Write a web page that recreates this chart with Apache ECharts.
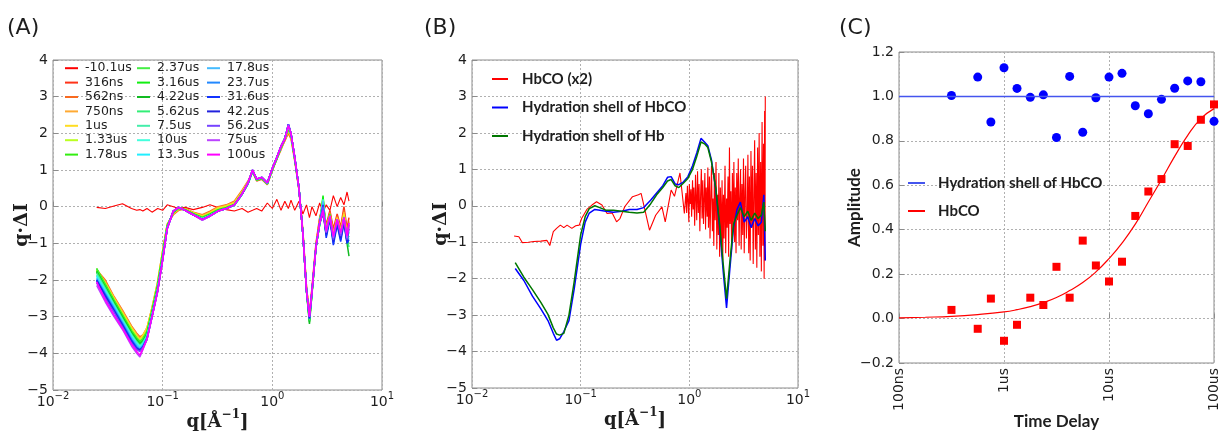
<!DOCTYPE html>
<html>
<head>
<meta charset="UTF-8">
<title>q·ΔI time series</title>
<style>
    html, body { margin: 0; padding: 0; background: #fff; }
    #chart { width: 1220px; height: 431px; }
</style>
</head>
<body>
<div id="chart"></div>
<script src="https://cdn.jsdelivr.net/npm/echarts@6/dist/echarts.min.js"></script>
<script>
// ---------- panel (A): q.dI for every time delay ----------
var qA = [0.025,0.03,0.036,0.043,0.052,0.058,0.062,0.066,0.072,0.08,0.09,0.1,0.11,
          0.125,0.14,0.16,0.19,0.23,0.27,0.32,0.38,0.45,0.53,0.6,0.66,0.72,0.8,0.9,1.0,1.1,1.2,1.3,1.4,1.48,
          1.6,1.75,1.9,2.05,2.18,2.3,2.5,2.7,2.9,3.1,3.35,3.6,3.9,4.2,4.5,4.8,5.0];
var timeLabels = ['-10.1us','316ns','562ns','750ns','1us','1.33us','1.78us',
                  '2.37us','3.16us','4.22us','5.62us','7.5us','10us','13.3us',
                  '17.8us','23.7us','31.6us','42.2us','56.2us','75us','100us'];
var colorsA = ['#ff0000','#ff3318','#f86a20','#ffaa33','#ffdd22','#bbff22','#33ee11',
               '#44ee44','#11ee11','#11bb22','#33ee77','#44eeaa','#44ffdd','#22eeff',
               '#44bbff','#2288ff','#1133ff','#2222dd','#7744ff','#bb44ff','#ff00ff'];

var dNeg10_1us = [-0.02,-0.05,0.02,0.08,-0.05,-0.1,-0.08,-0.12,-0.05,-0.15,-0.05,-0.1,0.05, 0.0,-0.05,-0.02,-0.08,-0.02,0.05,-0.02,-0.08,-0.12,-0.05,-0.15,-0.1,-0.05,-0.12,0.1,-0.05,0.2,-0.1,0.15,-0.05,0.18, -0.1,0.15,-0.2,0.05,-0.3,0.0,-0.25,0.1,-0.15,0.05,-0.1,0.3,0.0,0.25,0.05,0.4,0.15];
var d316ns = [-1.78,-2.1,-2.5,-2.88,-3.3,-3.5,-3.58,-3.52,-3.35,-2.8,-2.1,-1.25,-0.5, -0.2,-0.08,-0.08,-0.18,-0.25,-0.18,-0.05,0.02,0.1,0.4,0.65,0.95,0.7,0.75,0.6,1.0,1.3,1.6,1.8,2.05,1.9, 1.3,0.45,-0.7,-2.2,-2.9,-2.2,-1.0,-0.3,0.05,-0.5,-0.1,-0.6,-0.2,-0.55,0.0,-0.6,-0.3];
var d562ns = [-1.72,-2.0,-2.45,-2.82,-3.25,-3.45,-3.55,-3.5,-3.3,-2.75,-2.05,-1.2,-0.48, -0.22,-0.1,-0.05,-0.15,-0.22,-0.12,0.0,0.05,0.15,0.45,0.7,0.95,0.72,0.75,0.62,0.98,1.3,1.55,1.8,2.0,1.85, 1.25,0.45,-0.65,-2.2,-2.95,-2.25,-1.05,-0.35,0.1,-0.55,-0.15,-0.7,-0.25,-0.6,-0.1,-0.7,-0.4];
var d750ns = [-1.75,-2.05,-2.47,-2.85,-3.28,-3.48,-3.6,-3.55,-3.35,-2.78,-2.1,-1.22,-0.5, -0.2,-0.08,-0.06,-0.16,-0.24,-0.15,-0.02,0.03,0.12,0.42,0.68,0.98,0.72,0.78,0.62,1.0,1.32,1.6,1.82,2.05,1.9, 1.3,0.5,-0.7,-2.25,-2.95,-2.3,-1.05,-0.4,0.0,-0.6,-0.2,-0.75,-0.3,-0.65,-0.15,-0.75,-0.5];
var d1us = [-1.7,-2.08,-2.5,-2.9,-3.3,-3.52,-3.62,-3.5,-3.3,-2.75,-2.05,-1.2,-0.48, -0.18,-0.06,-0.07,-0.17,-0.26,-0.17,-0.04,0.02,0.1,0.4,0.66,0.97,0.74,0.77,0.63,1.02,1.33,1.62,1.85,2.1,1.92, 1.32,0.48,-0.72,-2.25,-3.0,-2.3,-1.08,-0.42,0.2,-0.65,-0.2,-0.8,-0.3,-0.7,-0.2,-0.8,-0.55];
var d1_33us = [-1.72,-2.1,-2.52,-2.92,-3.33,-3.55,-3.65,-3.58,-3.38,-2.8,-2.1,-1.25,-0.5, -0.17,-0.05,-0.08,-0.18,-0.28,-0.18,-0.06,0.0,0.08,0.38,0.65,0.98,0.73,0.78,0.62,1.02,1.32,1.6,1.85,2.1,1.95, 1.3,0.5,-0.72,-2.28,-3.05,-2.32,-1.1,-0.45,0.0,-0.7,-0.25,-0.85,-0.35,-0.75,-0.25,-0.85,-0.7];
var d1_78us = [-1.68,-2.12,-2.55,-2.95,-3.38,-3.58,-3.68,-3.6,-3.4,-2.82,-2.12,-1.28,-0.52, -0.16,-0.05,-0.08,-0.19,-0.29,-0.2,-0.08,-0.02,0.06,0.36,0.63,0.97,0.72,0.77,0.62,1.0,1.3,1.6,1.85,2.12,1.95, 1.28,0.48,-0.75,-2.3,-3.1,-2.35,-1.1,-0.45,0.25,-0.7,-0.2,-0.9,-0.4,-0.8,-0.3,-0.9,-0.8];
var d2_37us = [-1.7,-2.15,-2.58,-2.98,-3.4,-3.6,-3.7,-3.62,-3.42,-2.85,-2.15,-1.3,-0.53, -0.15,-0.04,-0.09,-0.2,-0.3,-0.21,-0.09,-0.03,0.05,0.35,0.62,0.96,0.73,0.78,0.62,1.02,1.32,1.62,1.86,2.15,1.97, 1.3,0.5,-0.74,-2.3,-3.1,-2.35,-1.12,-0.48,-0.1,-0.72,-0.3,-0.9,-0.4,-0.8,-0.35,-0.9,-0.9];
var d3_16us = [-1.75,-2.18,-2.6,-3.0,-3.42,-3.62,-3.72,-3.65,-3.45,-2.88,-2.18,-1.32,-0.55, -0.14,-0.03,-0.09,-0.2,-0.31,-0.22,-0.1,-0.04,0.04,0.34,0.62,0.97,0.73,0.78,0.63,1.03,1.33,1.63,1.87,2.17,1.98, 1.32,0.52,-0.74,-2.32,-3.15,-2.35,-1.12,-0.48,0.3,-0.75,-0.25,-0.9,-0.4,-0.85,-0.3,-0.95,-1.0];
var d4_22us = [-1.78,-2.2,-2.62,-3.02,-3.45,-3.65,-3.75,-3.68,-3.48,-2.9,-2.2,-1.35,-0.55, -0.14,-0.03,-0.09,-0.21,-0.32,-0.22,-0.1,-0.04,0.04,0.34,0.62,0.97,0.74,0.78,0.63,1.02,1.33,1.63,1.88,2.18,1.98, 1.32,0.5,-0.75,-2.32,-3.2,-2.38,-1.12,-0.5,-0.05,-0.78,-0.3,-0.95,-0.45,-0.85,-0.4,-1.0,-1.35];
var d5_62us = [-1.8,-2.22,-2.65,-3.05,-3.48,-3.68,-3.78,-3.7,-3.5,-2.92,-2.22,-1.36,-0.56, -0.13,-0.03,-0.1,-0.21,-0.32,-0.23,-0.11,-0.05,0.04,0.34,0.62,0.98,0.74,0.79,0.63,1.03,1.33,1.63,1.88,2.18,1.98, 1.33,0.5,-0.75,-2.3,-3.1,-2.35,-1.12,-0.5,0.1,-0.75,-0.3,-0.9,-0.4,-0.8,-0.35,-0.9,-1.1];
var d7_5us = [-1.85,-2.25,-2.68,-3.08,-3.5,-3.7,-3.8,-3.72,-3.52,-2.93,-2.23,-1.38,-0.57, -0.13,-0.02,-0.1,-0.22,-0.33,-0.23,-0.11,-0.05,0.04,0.34,0.62,0.98,0.74,0.79,0.64,1.03,1.34,1.64,1.88,2.18,1.98, 1.33,0.5,-0.75,-2.3,-3.05,-2.33,-1.12,-0.48,-0.1,-0.75,-0.3,-0.95,-0.35,-0.8,-0.3,-0.9,-0.9];
var d10us = [-1.88,-2.28,-2.7,-3.1,-3.52,-3.72,-3.82,-3.74,-3.54,-2.95,-2.25,-1.4,-0.58, -0.13,-0.02,-0.1,-0.22,-0.33,-0.24,-0.12,-0.05,0.04,0.34,0.63,0.98,0.74,0.79,0.64,1.04,1.34,1.64,1.86,2.2,1.98, 1.34,0.5,-0.75,-2.3,-3.05,-2.32,-1.1,-0.46,0.2,-0.72,-0.25,-0.9,-0.4,-0.78,-0.35,-0.88,-0.8];
var d13_3us = [-1.9,-2.32,-2.72,-3.12,-3.55,-3.75,-3.85,-3.76,-3.56,-2.96,-2.26,-1.41,-0.58, -0.13,-0.02,-0.1,-0.22,-0.34,-0.24,-0.12,-0.05,0.04,0.34,0.63,0.99,0.75,0.8,0.64,1.04,1.34,1.64,1.86,2.2,1.99, 1.34,0.5,-0.75,-2.3,-3.0,-2.3,-1.1,-0.46,-0.05,-0.7,-0.3,-0.85,-0.35,-0.8,-0.3,-0.85,-0.7];
var d17_8us = [-1.95,-2.35,-2.75,-3.15,-3.58,-3.78,-3.87,-3.78,-3.57,-2.97,-2.27,-1.42,-0.59, -0.12,-0.02,-0.1,-0.22,-0.34,-0.24,-0.12,-0.05,0.04,0.34,0.63,0.99,0.75,0.8,0.64,1.04,1.34,1.64,1.86,2.22,2.0, 1.35,0.5,-0.75,-2.3,-3.0,-2.3,-1.1,-0.45,0.15,-0.72,-0.28,-0.9,-0.38,-0.85,-0.35,-0.9,-0.85];
var d23_7us = [-1.98,-2.38,-2.78,-3.18,-3.62,-3.82,-3.9,-3.8,-3.58,-2.98,-2.28,-1.43,-0.59, -0.12,-0.02,-0.1,-0.22,-0.35,-0.25,-0.12,-0.05,0.05,0.35,0.64,1.0,0.75,0.8,0.65,1.05,1.35,1.65,1.85,2.22,2.0, 1.35,0.5,-0.75,-2.3,-3.0,-2.3,-1.1,-0.45,-0.1,-0.8,-0.3,-1.0,-0.45,-0.9,-0.4,-0.95,-0.95];
var d31_6us = [-2.0,-2.42,-2.82,-3.22,-3.65,-3.85,-3.92,-3.82,-3.6,-3.0,-2.3,-1.44,-0.6, -0.12,-0.02,-0.1,-0.22,-0.35,-0.25,-0.12,-0.05,0.05,0.35,0.64,1.0,0.75,0.8,0.65,1.05,1.35,1.65,1.85,2.25,2.0, 1.35,0.5,-0.75,-2.3,-3.05,-2.3,-1.1,-0.45,0.05,-0.85,-0.35,-1.05,-0.5,-0.95,-0.45,-1.0,-0.9];
var d42_2us = [-2.02,-2.45,-2.85,-3.25,-3.7,-3.88,-3.9,-3.85,-3.62,-3.0,-2.3,-1.45,-0.6, -0.12,-0.02,-0.1,-0.22,-0.36,-0.26,-0.12,-0.05,0.05,0.35,0.64,1.0,0.75,0.8,0.65,1.05,1.35,1.65,1.85,2.25,2.0, 1.35,0.5,-0.75,-2.3,-3.05,-2.3,-1.1,-0.45,-0.2,-0.75,-0.3,-0.95,-0.4,-0.85,-0.35,-0.95,-0.6];
var d56_2us = [-2.08,-2.5,-2.88,-3.28,-3.72,-3.9,-3.95,-3.85,-3.62,-3.0,-2.3,-1.45,-0.6, -0.12,-0.02,-0.1,-0.22,-0.36,-0.26,-0.12,-0.05,0.05,0.35,0.65,1.0,0.75,0.8,0.65,1.05,1.35,1.65,1.85,2.25,2.0, 1.35,0.5,-0.75,-2.3,-3.0,-2.3,-1.1,-0.45,0.0,-0.7,-0.3,-0.9,-0.35,-0.8,-0.3,-0.9,-0.5];
var d75us = [-2.15,-2.6,-3.0,-3.35,-3.8,-4.0,-4.1,-3.9,-3.62,-3.02,-2.32,-1.46,-0.6, -0.12,-0.02,-0.1,-0.22,-0.37,-0.26,-0.12,-0.05,0.05,0.35,0.65,1.0,0.76,0.8,0.65,1.05,1.35,1.65,1.85,2.22,2.0, 1.35,0.5,-0.75,-2.3,-3.0,-2.3,-1.1,-0.45,-0.15,-0.7,-0.25,-0.85,-0.35,-0.75,-0.3,-0.85,-0.45];
var d100us = [-2.05,-2.55,-2.95,-3.32,-3.75,-3.95,-4.05,-3.88,-3.6,-3.0,-2.3,-1.45,-0.6, -0.12,-0.02,-0.1,-0.22,-0.35,-0.25,-0.12,-0.05,0.05,0.35,0.65,1.0,0.75,0.8,0.65,1.05,1.35,1.65,1.85,2.2,2.0, 1.35,0.5,-0.75,-2.3,-3.0,-2.3,-1.1,-0.45,-0.1,-0.65,-0.25,-0.8,-0.35,-0.7,-0.3,-0.8,-0.45];
var seriesA = [dNeg10_1us,d316ns,d562ns,d750ns,d1us,d1_33us,d1_78us,d2_37us,d3_16us,d4_22us,d5_62us,
               d7_5us,d10us,d13_3us,d17_8us,d23_7us,d31_6us,d42_2us,d56_2us,d75us,d100us];

// ---------- panel (B): HbCO and hydration shells ----------
var qHyd = [0.025,0.03,0.036,0.043,0.05,0.056,0.06,0.064,0.07,0.078,0.087,0.1,0.11,0.12,0.135,0.15,0.17,0.2,0.24,0.28,0.33,0.38,0.44,0.5,0.57,0.63,0.68,0.74,0.8,0.88,0.97,1.07,1.17,1.28,1.38,1.48,1.6,1.75,1.9,2.05,2.2,2.35,2.55,2.75,2.95,3.2,3.45,3.7,4.0,4.3,4.6,4.85,5.0];
var shellHbCO = [-1.72,-2.05,-2.48,-2.83,-3.15,-3.5,-3.69,-3.65,-3.45,-3.15,-2.3,-1.05,-0.45,-0.2,-0.1,-0.12,-0.15,-0.18,-0.15,-0.1,-0.1,-0.05,0.15,0.35,0.55,0.78,0.8,0.6,0.58,0.65,0.8,1.1,1.45,1.85,1.75,1.65,1.25,0.45,-0.6,-1.8,-2.8,-1.8,-0.6,-0.1,0.1,-0.45,-0.3,-0.6,-0.35,-0.55,-0.45,0.3,-1.5];
var shellHb = [-1.56,-1.96,-2.3,-2.65,-2.98,-3.35,-3.52,-3.55,-3.5,-3.0,-2.1,-0.8,-0.3,-0.08,0.0,-0.05,-0.12,-0.12,-0.15,-0.18,-0.2,-0.18,0.05,0.3,0.5,0.68,0.72,0.55,0.5,0.62,0.75,1.0,1.35,1.75,1.7,1.6,1.2,0.5,-0.5,-1.6,-2.55,-1.6,-0.5,-0.25,-0.05,-0.3,-0.15,-0.4,-0.2,-0.35,-0.25,0.1,-0.7];
var qHbcoLow = [0.0244,0.027,0.029,0.033,0.037,0.043,0.049,0.052,0.056,0.06,0.065,0.07,0.075,0.083,0.09,0.097,0.102,0.114,0.127,0.14,0.157,0.175,0.195,0.214,0.23,0.255,0.3,0.34,0.36,0.39,0.43,0.49,0.56,0.6,0.68,0.73,0.82,0.9];
var hbcoLow = [-0.83,-0.85,-1.01,-1.0,-0.98,-0.97,-0.95,-1.09,-0.71,-0.62,-0.53,-0.6,-0.53,-0.62,-0.55,-0.53,-0.35,-0.1,0.02,0.11,0.02,-0.21,-0.2,-0.44,-0.35,-0.02,0.25,0.3,0.34,-0.11,-0.67,-0.26,-0.03,-0.44,0.43,0.26,0.9,-0.21];
var qHbcoHigh = [0.93,0.945,0.96,0.975,0.99,1.0,1.02,1.035,1.05,1.07,
                 1.085,1.1,1.12,1.14,1.155,1.17,1.19,1.21,1.23,1.25,
                 1.27,1.29,1.31,1.33,1.35,1.37,1.39,1.41,1.43,1.46,
                 1.48,1.5,1.53,1.55,1.58,1.6,1.63,1.65,1.68,1.7,
                 1.73,1.76,1.79,1.82,1.85,1.87,1.9,1.93,1.97,2.0,
                 2.03,2.06,2.09,2.13,2.16,2.2,2.23,2.27,2.3,2.34,
                 2.37,2.41,2.45,2.49,2.53,2.57,2.61,2.65,2.69,2.73,
                 2.78,2.82,2.87,2.91,2.96,3.0,3.05,3.1,3.15,3.2,
                 3.25,3.3,3.35,3.41,3.46,3.52,3.57,3.63,3.69,3.75,
                 3.81,3.87,3.93,3.99,4.05,4.12,4.18,4.25,4.32,4.39,
                 4.46,4.53,4.6,4.67,4.75,4.82,4.88,4.93,4.97,5.0];
var hbcoHigh = [0.35,-0.2,0.55,0.1,-0.45,0.6,0.05,0.45,-0.3,0.7,-0.1,0.5,
                -0.55,0.85,0.2,-0.4,0.95,-0.2,0.6,-0.7,0.3,1.0,-0.35,0.7,-0.5,0.2,0.9,-0.65,0.5,-0.3,1.05,-0.6,
                0.8,-0.9,0.4,1.1,-0.7,0.2,-1.1,0.9,-0.4,1.2,-1.2,0.3,-0.8,0.9,-1.4,0.5,-1.0,0.7,
                -1.5,0.3,-0.9,1.1,-1.3,0.2,-0.6,0.8,-1.4,1.6,-0.5,0.4,-1.2,0.9,-0.7,
                1.2,-1.0,0.5,-1.3,0.9,-0.4,1.3,-1.1,0.2,1.0,-1.2,0.6,-0.8,1.3,-1.3,0.4,1.1,-0.9,-0.2,1.4,-1.3,
                0.8,-1.5,1.5,-0.6,1.1,-1.6,0.3,1.8,-1.2,0.9,-1.7,1.6,-0.8,2.0,-1.4,
                1.2,-1.8,2.3,-1.1,1.7,-2.0,2.6,-1.5,3.0];

// ---------- panel (C): amplitudes vs time delay (us) ----------
var delays = [0.316,0.562,0.75,1,1.33,1.78,2.37,3.16,4.22,5.62,7.5,10,13.3,17.8,23.7,31.6,42.2,56.2,75,100];
var shellAmp = [1.004,1.087,0.885,1.129,1.036,0.996,1.007,0.815,1.09,0.839,0.994,1.087,1.104,0.958,0.922,0.987,1.037,1.07,1.066,0.888];
var hbcoAmp = [0.039,-0.046,0.09,-0.1,-0.028,0.094,0.061,0.233,0.094,0.351,0.239,0.167,0.256,0.462,0.572,0.628,0.785,0.777,0.895,0.964];
var shellFitT = [0.1,100];
var shellFit = [1.0,1.0];
var hbcoFitT = [0.1,0.178,0.316,0.562,1,1.33,1.78,2.37,3.16,4.22,5.62,7.5,10,13.3,17.8,23.7,31.6,42.2,56.2,75,100];
var hbcoFit = [0.003,0.006,0.01,0.018,0.03,0.04,0.054,0.072,0.095,0.126,0.162,0.21,0.27,0.34,0.425,0.525,0.625,0.73,0.825,0.9,0.945];
var delayTickValues = [0.1,1,10,100];
var delayTickLabels = ['100ns','1us','10us','100us'];

var txt = '#1e1e1e';
var frame = '#8c8c8c';

function pairs(xs, ys) {
    var out = [];
    for (var i = 0; i < Math.min(xs.length, ys.length); i++) out.push([xs[i], ys[i]]);
    return out;
}
function minus(v) { return String(v).replace('-', '\u2212'); }

var gridLine = {show: true, lineStyle: {color: '#b0b0b0', type: [2, 2], width: 1}};
var tick = {show: true, inside: true, length: 5, lineStyle: {color: frame}};
var supRich = {
    b: {fontFamily: 'DejaVu Sans', fontSize: 14, color: txt, lineHeight: 18, verticalAlign: 'bottom'},
    s: {fontFamily: 'DejaVu Sans', fontSize: 10, color: txt, lineHeight: 10, verticalAlign: 'top'}
};
var qNameRich = {
    b: {fontFamily: 'DejaVu Serif', fontWeight: 'bold', fontSize: 18, color: txt, lineHeight: 22, verticalAlign: 'bottom'},
    s: {fontFamily: 'DejaVu Serif', fontWeight: 'bold', fontSize: 12, color: txt, lineHeight: 12, verticalAlign: 'top'}
};

function qAxis(gi) {
    return {
        type: 'log', logBase: 10, min: 0.01, max: 10, gridIndex: gi,
        axisLine: {show: false}, axisTick: tick, splitLine: gridLine,
        axisLabel: {
            margin: 1,
            formatter: function (v) { return '{b|10}{s|' + minus(Math.round(Math.log10(v))) + '}'; },
            rich: supRich
        },
        name: '{b|q[Å}{s|\u22121}{b|]}', nameLocation: 'middle', nameGap: 19, nameMoveOverlap: false,
        nameTextStyle: {rich: qNameRich}
    };
}
function dIAxis(gi) {
    return {
        type: 'value', min: -5, max: 4, interval: 1, gridIndex: gi,
        axisLine: {show: false}, axisTick: tick, splitLine: gridLine,
        axisLabel: {margin: 5, fontFamily: 'DejaVu Sans', fontSize: 14, color: txt, formatter: function (v) { return minus(v); }},
        name: 'q·ΔI', nameLocation: 'middle', nameGap: 21, nameMoveOverlap: false,
        nameTextStyle: {fontFamily: 'DejaVu Serif', fontWeight: 'bold', fontSize: 19, color: txt}
    };
}

var series = [];
for (var i = 0; i < seriesA.length; i++) {
    series.push({
        name: timeLabels[i], type: 'line', xAxisIndex: 0, yAxisIndex: 0,
        data: pairs(qA, seriesA[i]), showSymbol: false, symbol: 'none',
        lineStyle: {width: i === 0 ? 1.1 : 1.5}, itemStyle: {color: colorsA[i]}
    });
}
series.push(
    {name: 'HbCO (x2)', type: 'line', xAxisIndex: 1, yAxisIndex: 1, showSymbol: false, symbol: 'none',
     data: pairs(qHbcoLow.concat(qHbcoHigh), hbcoLow.concat(hbcoHigh)),
     lineStyle: {width: 1.1}, itemStyle: {color: '#ff0000'}},
    {name: 'Hydration shell of HbCO', type: 'line', xAxisIndex: 1, yAxisIndex: 1, showSymbol: false, symbol: 'none',
     data: pairs(qHyd, shellHbCO), lineStyle: {width: 1.5}, itemStyle: {color: '#0000ff'}},
    {name: 'Hydration shell of Hb', type: 'line', xAxisIndex: 1, yAxisIndex: 1, showSymbol: false, symbol: 'none',
     data: pairs(qHyd, shellHb), lineStyle: {width: 1.5}, itemStyle: {color: '#007700'}},
    {name: 'Hydration shell of HbCO (fit)', type: 'line', xAxisIndex: 2, yAxisIndex: 2, showSymbol: false, symbol: 'none',
     data: pairs(shellFitT, shellFit), lineStyle: {width: 1.6}, itemStyle: {color: '#4455ee'}},
    {name: 'HbCO (fit)', type: 'line', xAxisIndex: 2, yAxisIndex: 2, showSymbol: false, symbol: 'none', smooth: true,
     data: pairs(hbcoFitT, hbcoFit), lineStyle: {width: 1.2}, itemStyle: {color: '#ff0000'}},
    {name: 'shell points', type: 'scatter', xAxisIndex: 2, yAxisIndex: 2, symbol: 'circle', symbolSize: 9,
     data: pairs(delays, shellAmp), itemStyle: {color: '#0000ff', opacity: 1}},
    {name: 'HbCO points', type: 'scatter', xAxisIndex: 2, yAxisIndex: 2, symbol: 'rect', symbolSize: 8,
     data: pairs(delays, hbcoAmp), itemStyle: {color: '#ff0000', opacity: 1}}
);

var legendA = {orient: 'vertical', top: 61, padding: 0, itemWidth: 13, itemHeight: 2, itemGap: 0, icon: 'rect',
               selectedMode: false, textStyle: {fontFamily: 'DejaVu Sans', fontSize: 12.5, color: txt, lineHeight: 14.4, padding: [0, 0, 0, 2]}};
var boldLegend = {fontFamily: 'Lato', fontWeight: 'bold', fontSize: 15, color: txt, lineHeight: 18};
var panelTitle = {fontFamily: 'DejaVu Sans', fontWeight: 'normal', fontSize: 22, color: txt};
var gridBase = {show: true, borderColor: frame, borderWidth: 1, backgroundColor: 'transparent',
                containLabel: false, outerBoundsMode: 'none'};

var option = {
    animation: false,
    backgroundColor: '#fff',
    title: [
        {text: '(A)', left: 7, top: 17, padding: 0, textStyle: panelTitle},
        {text: '(B)', left: 424, top: 17, padding: 0, textStyle: panelTitle},
        {text: '(C)', left: 839, top: 17, padding: 0, textStyle: panelTitle}
    ],
    legend: [
        Object.assign({}, legendA, {left: 65, data: timeLabels.slice(0, 7)}),
        Object.assign({}, legendA, {left: 137, data: timeLabels.slice(7, 14)}),
        Object.assign({}, legendA, {left: 207, data: timeLabels.slice(14)}),
        {orient: 'vertical', left: 492, top: 70, padding: 0, itemWidth: 16, itemHeight: 2, itemGap: 10.5, icon: 'rect',
         selectedMode: false, textStyle: Object.assign({padding: [0, 0, 0, 9]}, boldLegend),
         data: ['HbCO (x2)', 'Hydration shell of HbCO', 'Hydration shell of Hb']},
        {orient: 'vertical', left: 908, top: 174, padding: 0, itemWidth: 17, itemHeight: 2, itemGap: 10, icon: 'rect',
         selectedMode: false, textStyle: Object.assign({padding: [0, 0, 0, 8]}, boldLegend),
         formatter: function (n) { return n.replace(' (fit)', ''); },
         data: ['Hydration shell of HbCO (fit)', 'HbCO (fit)']}
    ],
    grid: [
        Object.assign({left: 53, top: 60, width: 329, height: 330}, gridBase),
        Object.assign({left: 472, top: 60, width: 326, height: 328}, gridBase),
        Object.assign({left: 899, top: 52, width: 315, height: 311}, gridBase)
    ],
    xAxis: [
        qAxis(0),
        qAxis(1),
        {
            type: 'log', logBase: 10, min: 0.1, max: 100, gridIndex: 2,
            axisLine: {show: false}, axisTick: tick, splitLine: gridLine,
            axisLabel: {
                rotate: 90, margin: 5, fontFamily: 'DejaVu Sans', fontSize: 14, color: txt,
                formatter: function (v) {
                    for (var k = 0; k < delayTickValues.length; k++) {
                        if (Math.abs(Math.log10(v) - Math.log10(delayTickValues[k])) < 0.01) return delayTickLabels[k];
                    }
                    return '';
                }
            },
            name: 'Time Delay', nameLocation: 'middle', nameGap: 50, nameMoveOverlap: false,
            nameTextStyle: {fontFamily: 'Lato', fontWeight: 'bold', fontSize: 17, color: txt}
        }
    ],
    yAxis: [
        dIAxis(0),
        dIAxis(1),
        {
            type: 'value', min: -0.2, max: 1.2, interval: 0.2, gridIndex: 2,
            axisLine: {show: false}, axisTick: tick, splitLine: gridLine,
            axisLabel: {margin: 5, fontFamily: 'DejaVu Sans', fontSize: 14, color: txt,
                        formatter: function (v) { return minus(v.toFixed(1)); }},
            name: 'Amplitude', nameLocation: 'middle', nameGap: 36, nameMoveOverlap: false,
            nameTextStyle: {fontFamily: 'Lato', fontWeight: 'bold', fontSize: 17, color: txt}
        }
    ],
    series: series
};

var chart = echarts.init(document.getElementById('chart'));
chart.setOption(option);
</script>
</body>
</html>
